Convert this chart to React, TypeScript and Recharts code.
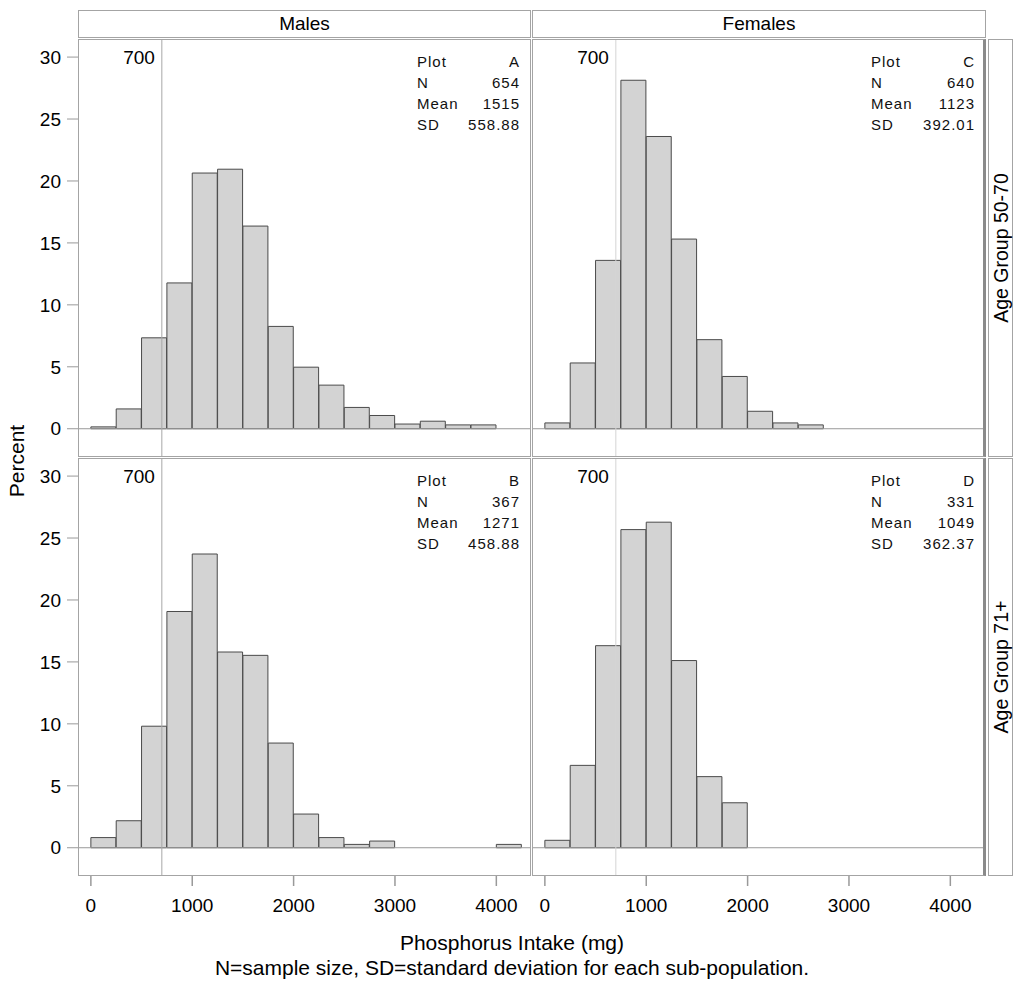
import React from "react";
import { BarChart, Bar, XAxis, YAxis, ReferenceLine } from "recharts";

// Bin midpoints (bins of 250 mg from 0 to 4250)
const binMids = [125, 375, 625, 875, 1125, 1375, 1625, 1875, 2125, 2375, 2625, 2875, 3125, 3375, 3625, 3875, 4125];

// Percent per bin
const malesAge5070 = [0.15, 1.6, 7.34, 11.77, 20.64, 20.95, 16.36, 8.26, 4.97, 3.52, 1.72, 1.07, 0.38, 0.61, 0.31, 0.31, 0];
const malesAge71 = [0.82, 2.18, 9.81, 19.07, 23.71, 15.8, 15.53, 8.45, 2.72, 0.82, 0.27, 0.54, 0, 0, 0, 0, 0.27];
const femalesAge5070 = [0.47, 5.31, 13.59, 28.13, 23.59, 15.31, 7.19, 4.22, 1.41, 0.47, 0.31, 0, 0, 0, 0, 0, 0];
const femalesAge71 = [0.6, 6.65, 16.31, 25.68, 26.28, 15.11, 5.74, 3.63, 0, 0, 0, 0, 0, 0, 0, 0, 0];

const xTicks = [0, 1000, 2000, 3000, 4000];
const yTicks = [0, 5, 10, 15, 20, 25, 30];
const refValue = 700;

const statLabels = ["Plot", "N", "Mean", "SD"];
const statsA = ["A", "654", "1515", "558.88"];
const statsB = ["B", "367", "1271", "458.88"];
const statsC = ["C", "640", "1123", "392.01"];
const statsD = ["D", "331", "1049", "362.37"];

const colTitles = ["Males", "Females"];
const rowTitles = ["Age Group 50-70", "Age Group 71+"];
const xTitle = "Phosphorus Intake (mg)";
const footnote = "N=sample size, SD=standard deviation for each sub-population.";
const yTitle = "Percent";

const FONT = '"Liberation Sans", Arial, sans-serif';
const X_DOMAIN: [number, number] = [-127, 4342];
const Y_DOMAIN: [number, number] = [-2.2, 31.46];

const build = (vals: number[]) => binMids.map((m, i) => ({ mid: m, pct: vals[i] }));

type PanelProps = {
  vals: number[];
  left: number;
  top: number;
  width: number;
  height: number;
  showY: boolean;
  showX: boolean;
  refColor: string;
};

function Panel({ vals, left, top, width, height, showY, showX, refColor }: PanelProps) {
  return (
    <div style={{ position: "absolute", left, top }}>
      <BarChart
        width={width}
        height={height}
        data={build(vals)}
        margin={{ top: 0, right: 0, bottom: 0, left: 0 }}
        barCategoryGap={0}
        barGap={0}
      >
        <XAxis
          type="number"
          dataKey="mid"
          domain={X_DOMAIN}
          allowDataOverflow
          ticks={xTicks}
          hide={!showX}
          height={60}
          axisLine={false}
          tickLine={{ stroke: "#999", strokeWidth: 1.5 }}
          tickSize={11}
          tickMargin={13}
          tick={{ fill: "#000", fontSize: 19, fontFamily: FONT }}
          interval={0}
        />
        <YAxis
          type="number"
          domain={Y_DOMAIN}
          allowDataOverflow
          ticks={yTicks}
          hide={!showY}
          width={78}
          axisLine={false}
          tickLine={{ stroke: "#999", strokeWidth: 1 }}
          tickSize={11}
          tickMargin={6}
          tick={{ fill: "#000", fontSize: 19, fontFamily: FONT }}
          interval={0}
        />
        <ReferenceLine y={0} stroke="#999" strokeWidth={1} />
        <Bar dataKey="pct" fill="#d3d3d3" stroke="#4a4a4a" strokeWidth={1} isAnimationActive={false} />
        <ReferenceLine
          x={refValue}
          stroke={refColor}
          strokeWidth={1}
          label={(p: any) => (
            <text
              x={p.viewBox.x - 7}
              y={p.viewBox.y + 18}
              textAnchor="end"
              dominantBaseline="central"
              fontSize={19}
              fontFamily={FONT}
              fill="#000"
            >
              {String(refValue)}
            </text>
          )}
        />
      </BarChart>
    </div>
  );
}

function Stats({ values, left, right, top }: { values: string[]; left: number; right: number; top: number }) {
  return (
    <div style={{ position: "absolute", left, top, width: right - left, fontFamily: FONT, fontSize: 15, letterSpacing: 1, color: "#111" }}>
      {statLabels.map((l, i) => (
        <div key={l} style={{ display: "flex", justifyContent: "space-between", height: 21, lineHeight: "21px" }}>
          <span>{l}</span>
          <span style={{ marginRight: -1 }}>{values[i]}</span>
        </div>
      ))}
    </div>
  );
}

const frame = (left: number, top: number, width: number, height: number, extra: React.CSSProperties = {}) => (
  <div
    style={{
      position: "absolute",
      left,
      top,
      width,
      height,
      boxSizing: "border-box",
      border: "1px solid #a4a4a4",
      pointerEvents: "none",
      ...extra,
    }}
  />
);

export default function App() {
  const LM = 78, RM = 531, LF = 532, RF = 986;
  const T1 = 39, B1 = 456, T2 = 458, B2 = 875;
  const H = B1 - T1;
  return (
    <div style={{ position: "absolute", left: 0, top: 0, width: 1024, height: 988, background: "#fff", fontFamily: FONT, overflow: "hidden" }}>
      {/* Column strips */}
      {frame(LM, 10, RM - LM, 28)}
      {frame(LF, 10, RF - LF, 28)}
      <div style={{ position: "absolute", left: LM, top: 10, width: RM - LM, height: 28, lineHeight: "28px", textAlign: "center", fontSize: 19 }}>{colTitles[0]}</div>
      <div style={{ position: "absolute", left: LF, top: 10, width: RF - LF, height: 28, lineHeight: "28px", textAlign: "center", fontSize: 19 }}>{colTitles[1]}</div>

      {/* Row strips */}
      {frame(988, T1, 25, H + 1)}
      {frame(988, T2, 25, H + 1)}
      {[0, 1].map((r) => (
        <div
          key={r}
          style={{
            position: "absolute",
            left: 1000.5 - 150,
            top: (r === 0 ? (T1 + B1) / 2 : (T2 + B2) / 2) - 12,
            width: 300,
            height: 24,
            lineHeight: "24px",
            textAlign: "center",
            fontSize: 19.5,
            transform: "rotate(-90deg)",
            whiteSpace: "nowrap",
          }}
        >
          {rowTitles[r]}
        </div>
      ))}

      {/* Panels */}
      <Panel vals={malesAge5070} left={0} top={T1} width={RM} height={H} showY showX={false} refColor="#a8a8a8" />
      <Panel vals={femalesAge5070} left={LF} top={T1} width={RF - LF - 1} height={H} showY={false} showX={false} refColor="#d4d4d4" />
      <Panel vals={malesAge71} left={0} top={T2} width={RM} height={H + 60} showY showX refColor="#a8a8a8" />
      <Panel vals={femalesAge71} left={LF} top={T2} width={RF - LF - 1} height={H + 60} showY={false} showX refColor="#d4d4d4" />

      {/* Panel frames */}
      {frame(LM, T1, RM - LM, H + 1)}
      {frame(LF, T1, RF - LF, H + 1, { borderRight: "3px solid #8a8a8a" })}
      {frame(LM, T2, RM - LM, H + 1)}
      {frame(LF, T2, RF - LF, H + 1, { borderRight: "3px solid #8a8a8a" })}

      {/* Inset statistics */}
      <Stats values={statsA} left={LM + 339} right={RM - 12} top={T1 + 12} />
      <Stats values={statsC} left={LF + 339} right={RF - 12} top={T1 + 12} />
      <Stats values={statsB} left={LM + 339} right={RM - 12} top={T2 + 12} />
      <Stats values={statsD} left={LF + 339} right={RF - 12} top={T2 + 12} />

      {/* Titles */}
      <div style={{ position: "absolute", left: 17 - 60, top: 461 - 12, width: 120, height: 24, lineHeight: "24px", textAlign: "center", fontSize: 21, transform: "rotate(-90deg)" }}>{yTitle}</div>
      <div style={{ position: "absolute", left: 212, top: 931, width: 600, height: 24, lineHeight: "24px", textAlign: "center", fontSize: 21 }}>{xTitle}</div>
      <div style={{ position: "absolute", left: 112, top: 956, width: 800, height: 24, lineHeight: "24px", textAlign: "center", fontSize: 21 }}>{footnote}</div>
    </div>
  );
}
